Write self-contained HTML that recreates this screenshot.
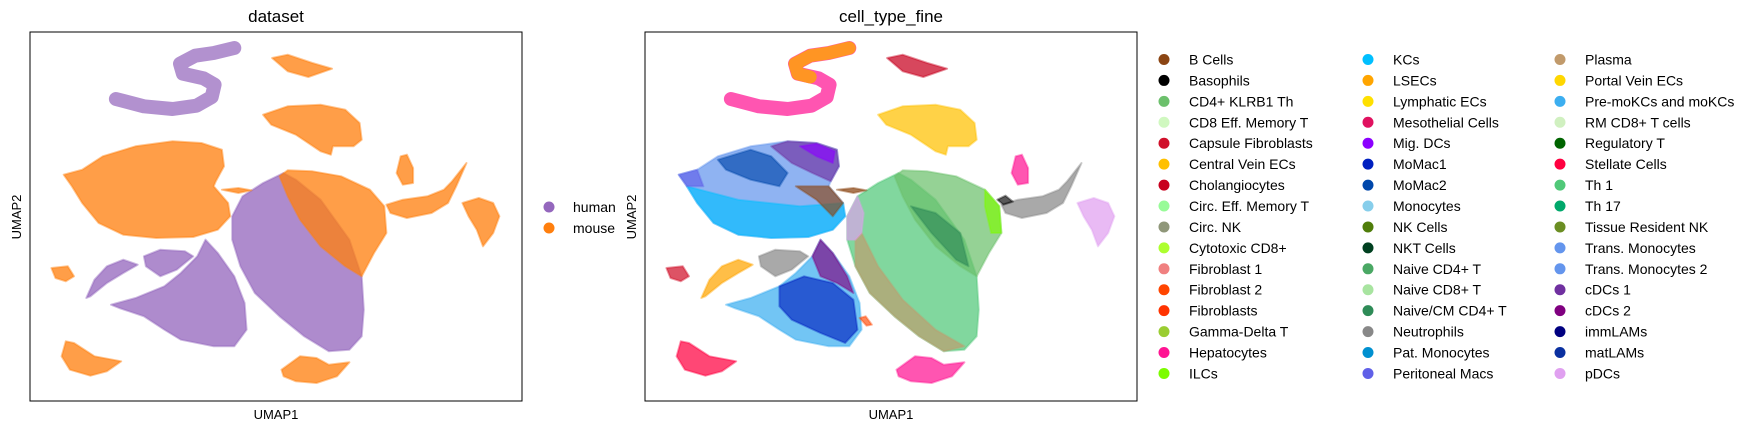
<!DOCTYPE html>
<html><head><meta charset="utf-8"><style>
html,body{margin:0;padding:0;background:#fff;}
svg{display:block;font-family:"Liberation Sans","DejaVu Sans",sans-serif;}
</style></head><body>
<svg id="fig" width="1753" height="431" viewBox="0 0 1753 431" xmlns="http://www.w3.org/2000/svg">
<text x="276" y="22" font-size="17" text-anchor="middle">dataset</text>
<text x="891" y="22" font-size="17" text-anchor="middle">cell_type_fine</text>
<text x="276" y="419" font-size="13" text-anchor="middle">UMAP1</text>
<text x="891" y="419" font-size="13" text-anchor="middle">UMAP1</text>
<text transform="translate(21,217) rotate(-90)" font-size="13" text-anchor="middle">UMAP2</text>
<text transform="translate(636,217) rotate(-90)" font-size="13" text-anchor="middle">UMAP2</text>
<g id="left"></g>
<g id="right"></g>
<rect x="30" y="32" width="492" height="369" fill="none" stroke="#000" stroke-width="1"/>
<rect x="645" y="32" width="492" height="369" fill="none" stroke="#000" stroke-width="1"/>
<g id="legL"></g>
<g id="legR"></g>
</svg>
<script>
const NS='http://www.w3.org/2000/svg';
// data domain (UMAP units)
const xDomain=[73,1270];
const yDomain=[97,1204];
// cluster outlines (UMAP1,UMAP2 pairs) with dataset membership
const clusterS=[[570,145],[520,160],[475,168],[438,192],[445,222],[495,236],[522,255],[515,292],[478,318],[420,328],[350,320],[282,298]];
const clusterS_hook=[[570,145],[520,160],[475,168],[438,192],[445,222],[475,232]];
const clusters=[
 {id:'c2',ds:'mouse',pts:[[662,175],[700,165],[760,190],[808,207],[750,232],[700,215]]},
 {id:'c3',ds:'mouse',pts:[[640,345],[700,320],[780,315],[840,330],[875,370],[880,420],[860,440],[810,440],[805,465],[780,455],[720,405],[660,375]]},
 {id:'c4',ds:'mouse',pts:[[155,525],[200,510],[250,470],[330,440],[420,425],[490,430],[540,450],[545,500],[525,545],[520,560],[555,610],[560,650],[530,690],[470,712],[380,715],[300,705],[240,670],[200,610],[175,560]]},
 {id:'c5',ds:'mouse',pts:[[975,470],[990,465],[1005,505],[1005,550],[980,555],[965,520]]},
 {id:'c6',ds:'mouse',pts:[[940,615],[980,600],[1040,590],[1080,570],[1100,545],[1135,490],[1110,560],[1090,610],[1050,640],[990,655],[950,640]]},
 {id:'c7',ds:'mouse',pts:[[1125,610],[1165,595],[1200,610],[1215,650],[1200,700],[1175,740],[1160,690],[1140,650]]},
 {id:'c8',ds:'human',pts:[[565,650],[590,590],[640,550],[690,520],[720,540],[780,600],[850,720],[880,830],[885,930],[880,1010],[850,1050],[800,1055],[740,1010],[680,950],[620,880],[585,800],[565,720]]},
 {id:'c8m',ds:'mouse',pts:[[680,530],[700,512],[760,515],[830,530],[900,570],[935,620],[940,700],[910,760],[880,830],[840,800],[780,740],[730,660],[700,590]]},
 {id:'c9',ds:'human',pts:[[350,770],[390,750],[450,755],[470,770],[430,810],[390,830],[355,800]]},
 {id:'c10',ds:'human',pts:[[210,895],[230,840],[260,800],[300,780],[335,795],[300,820],[260,850],[220,890]]},
 {id:'c11',ds:'mouse',pts:[[125,805],[165,800],[180,830],[160,845],[135,835]]},
 {id:'c12',ds:'human',pts:[[270,915],[330,895],[400,860],[440,820],[480,770],[500,720],[530,760],[570,830],[595,910],[600,990],[570,1040],[520,1040],[440,1020],[400,990],[350,950],[290,925]]},
 {id:'c13',ds:'mouse',pts:[[160,1025],[180,1030],[230,1070],[295,1085],[260,1115],[220,1128],[170,1110],[150,1070]]},
 {id:'c14',ds:'mouse',pts:[[685,1110],[730,1070],[770,1075],[800,1095],[850,1088],[820,1130],[770,1150],[720,1145],[690,1130]]},
 {id:'bridge',ds:'mouse',pts:[[540,570],[580,565],[612,572],[580,580]]}
];
// cell-type coloring of clusters (base type)
const baseType={c2:'Cholangiocytes',c3:'Central Vein ECs',c4:'Trans. Monocytes',c5:'Hepatocytes',c6:'Neutrophils',c7:'pDCs',c8:'Th 1',c8m:'CD4+ KLRB1 Th',c9:'Neutrophils',c10:'LSECs',c11:'Capsule Fibroblasts',c12:'Pre-moKCs and moKCs',c13:'Stellate Cells',c14:'Hepatocytes',bridge:'B Cells'};
// sub-populations within clusters
const subPops=[
 {type:'KCs',pts:[[175,560],[300,600],[450,620],[555,610],[560,650],[530,690],[470,712],[380,715],[300,705],[240,670],[200,610]]},
 {type:'MoMac2',pts:[[250,480],[330,450],[380,470],[420,520],[400,560],[330,540],[270,510]]},
 {type:'cDCs 1',pts:[[380,440],[420,425],[490,430],[540,450],[545,500],[525,545],[480,520],[430,490]]},
 {type:'Mig. DCs',pts:[[450,440],[490,432],[535,455],[530,490],[490,470]]},
 {type:'Peritoneal Macs',pts:[[155,525],[200,510],[215,560],[175,560]]},
 {type:'B Cells',pts:[[440,560],[520,560],[555,610],[530,650],[490,600]]},
 {type:'Plasma',pts:[[585,720],[600,700],[640,800],[700,900],[780,990],[850,1040],[800,1055],[740,1010],[680,950],[620,880],[585,800]]},
 {type:'pDCs',pts:[[565,650],[590,590],[605,640],[600,700],[585,720],[565,720]]},
 {type:'ILCs',pts:[[900,570],[935,620],[940,700],[915,700],[900,620]]},
 {type:'Naive/CM CD4+ T',pts:[[720,620],[780,640],[840,700],[860,800],[830,780],[770,700]]},
 {type:'MoMac1',pts:[[400,860],[460,830],[530,850],[580,900],[590,990],[560,1030],[500,1000],[430,960],[400,920]]},
 {type:'cDCs 2',pts:[[480,770],[500,720],[530,760],[565,830],[580,880],[540,850],[500,830]]},
 {type:'Basophils',pts:[[930,600],[950,588],[968,606],[945,615]]},
 {type:'Fibroblast 2',pts:[[595,955],[610,950],[625,975],[612,978]]}
];
// legend data
const datasetCats=['human','mouse'];
const datasetColors=['#9467bd','#ff7f0e'];
const cellTypes=['B Cells','Basophils','CD4+ KLRB1 Th','CD8 Eff. Memory T','Capsule Fibroblasts','Central Vein ECs','Cholangiocytes','Circ. Eff. Memory T','Circ. NK','Cytotoxic CD8+','Fibroblast 1','Fibroblast 2','Fibroblasts','Gamma-Delta T','Hepatocytes','ILCs',
'KCs','LSECs','Lymphatic ECs','Mesothelial Cells','Mig. DCs','MoMac1','MoMac2','Monocytes','NK Cells','NKT Cells','Naive CD4+ T','Naive CD8+ T','Naive/CM CD4+ T','Neutrophils','Pat. Monocytes','Peritoneal Macs',
'Plasma','Portal Vein ECs','Pre-moKCs and moKCs','RM CD8+ T cells','Regulatory T','Stellate Cells','Th 1','Th 17','Tissue Resident NK','Trans. Monocytes','Trans. Monocytes 2','cDCs 1','cDCs 2','immLAMs','matLAMs','pDCs'];
const cellColors=['#8b4513','#000000','#6cc06c','#d0f8c0','#d0102a','#ffc000','#c8001e','#98fb98','#8f9779','#adff2f','#f08080','#ff4500','#ff3300','#9acd32','#ff1493','#7cfc00',
'#00bfff','#ffa500','#ffe000','#e0115f','#8b00ff','#0020c0','#0047ab','#87ceeb','#4f7d0a','#004020','#4aa864','#a8e4a0','#2e8b57','#888888','#0090d0','#6060e8',
'#c19a6b','#ffd700','#3caef0','#d0f0c0','#006400','#ff0040','#50c878','#00a86b','#6b8e23','#6495ed','#6495ed','#7030a0','#800080','#000080','#0a30a0','#e0a0f0'];

function colorOf(t){return cellColors[cellTypes.indexOf(t)];}
function dsColor(d){return datasetColors[datasetCats.indexOf(d)];}
function mkAxes(x0,x1,y0,y1){
  return {sx:v=>x0+(v-xDomain[0])/(xDomain[1]-xDomain[0])*(x1-x0),
          sy:v=>y0+(v-yDomain[0])/(yDomain[1]-yDomain[0])*(y1-y0)};
}
const axL=mkAxes(30,522,32,401), axR=mkAxes(645,1137,32,401);
function poly(g,ax,pts,color,op){
  const p=document.createElementNS(NS,'polygon');
  p.setAttribute('points',pts.map(q=>ax.sx(q[0]).toFixed(1)+','+ax.sy(q[1]).toFixed(1)).join(' '));
  p.setAttribute('fill',color);p.setAttribute('fill-opacity',op);
  p.setAttribute('stroke',color);p.setAttribute('stroke-opacity',op*0.6);p.setAttribute('stroke-width','2');p.setAttribute('stroke-linejoin','round');
  g.appendChild(p);return p;
}
function line(g,ax,pts,color,w,op){
  const p=document.createElementNS(NS,'polyline');
  p.setAttribute('points',pts.map(q=>ax.sx(q[0]).toFixed(1)+','+ax.sy(q[1]).toFixed(1)).join(' '));
  p.setAttribute('fill','none');p.setAttribute('stroke',color);p.setAttribute('stroke-opacity',op);
  p.setAttribute('stroke-width',w);p.setAttribute('stroke-linecap','round');p.setAttribute('stroke-linejoin','round');
  g.appendChild(p);return p;
}
const gL=document.getElementById('left'), gR=document.getElementById('right');
// left panel
let el=line(gL,axL,clusterS,dsColor('human'),14,0.72);


clusters.forEach(c=>{
  const e=poly(gL,axL,c.pts,dsColor(c.ds),0.76);
  
  
});
// right panel
el=line(gR,axR,clusterS,colorOf('Hepatocytes'),14,0.72);


el=line(gR,axR,clusterS_hook,colorOf('LSECs'),13,0.8);


clusters.forEach(c=>{
  const e=poly(gR,axR,c.pts,colorOf(baseType[c.id]),0.72);
  
  
});
subPops.forEach(s=>{
  const e=poly(gR,axR,s.pts,colorOf(s.type),0.65);
  
  
});
// legends
const lL=document.getElementById('legL');
datasetCats.forEach((d,i)=>{
  const y=207+i*21;
  const c=document.createElementNS(NS,'circle');
  c.setAttribute('cx',549);c.setAttribute('cy',y);c.setAttribute('r',5.5);c.setAttribute('fill',datasetColors[i]);
  
  
  lL.appendChild(c);
  const t=document.createElementNS(NS,'text');
  t.setAttribute('x',573);t.setAttribute('y',y+5);t.setAttribute('font-size','14');t.textContent=d;
  
  
  lL.appendChild(t);
});
const lR=document.getElementById('legR');
const colX=[1164,1368,1560];
cellTypes.forEach((name,i)=>{
  const col=Math.floor(i/16), row=i%16;
  const y=59.5+row*20.93;
  const c=document.createElementNS(NS,'circle');
  c.setAttribute('cx',colX[col]);c.setAttribute('cy',y);c.setAttribute('r',5.5);c.setAttribute('fill',cellColors[i]);
  
  
  lR.appendChild(c);
  const t=document.createElementNS(NS,'text');
  t.setAttribute('x',colX[col]+25);t.setAttribute('y',y+5);t.setAttribute('font-size','14');t.textContent=name;
  
  
  lR.appendChild(t);
});
</script>
</body></html>
